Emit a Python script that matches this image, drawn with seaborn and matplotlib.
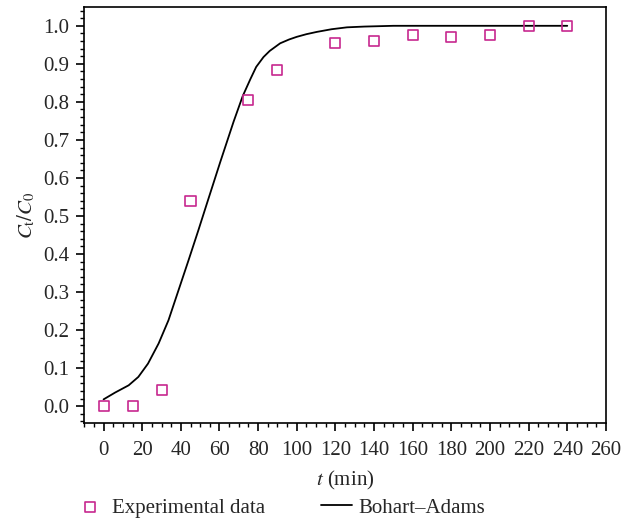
import numpy as np
import pandas as pd
import matplotlib
matplotlib.use("Agg")
import matplotlib.pyplot as plt
from matplotlib.ticker import MultipleLocator, FormatStrFormatter
import seaborn as sns

# experimental points
t_exp = [0, 15, 30, 45, 75, 90, 120, 140, 160, 180, 200, 220, 240]
c_exp = [0.0, 0.0, 0.042, 0.539, 0.806, 0.885, 0.955, 0.959, 0.977, 0.970, 0.977, 0.999, 0.999]

# Bohart-Adams model curve
t_model = [0, 6, 13, 18, 23, 28.5, 33.6, 38.8, 44, 49.1, 53.5, 60.4, 67.3, 72, 76, 79,
           82.8, 86, 91.4, 96, 100, 105, 110.4, 118, 126, 135, 150, 175, 210, 240]
c_model = [0.018, 0.036, 0.055, 0.077, 0.112, 0.165, 0.226, 0.305, 0.384, 0.463, 0.533,
           0.642, 0.748, 0.815, 0.860, 0.892, 0.918, 0.934, 0.954, 0.964, 0.971, 0.978,
           0.984, 0.991, 0.996, 0.998, 1.0, 1.0, 1.0, 1.0]

exp_df = pd.DataFrame({"t": t_exp, "c": c_exp})
model_df = pd.DataFrame({"t": t_model, "c": c_model})

sns.set_style("ticks")
plt.rcParams["font.family"] = ["Liberation Serif", "DejaVu Serif"]
plt.rcParams["mathtext.fontset"] = "stix"

fig = plt.figure(figsize=(6.24, 5.22), dpi=100)
ax = fig.add_axes([0.135, 0.189, 0.836, 0.798])

sns.lineplot(data=model_df, x="t", y="c", ax=ax, color="black", lw=1.3,
             label="Bohart\u2013Adams", zorder=2)
sns.scatterplot(data=exp_df, x="t", y="c", ax=ax, marker="s", s=52,
                facecolor="none", edgecolor="#c7288f", linewidth=1.2,
                label="Experimental data", zorder=3)

ax.set_xlim(-10, 260)
ax.set_ylim(-0.045, 1.05)
ax.xaxis.set_major_locator(MultipleLocator(20))
ax.xaxis.set_minor_locator(MultipleLocator(5))
ax.yaxis.set_major_locator(MultipleLocator(0.1))
ax.yaxis.set_minor_locator(MultipleLocator(0.02))
ax.yaxis.set_major_formatter(FormatStrFormatter("%.1f"))
ax.tick_params(which="major", direction="out", length=6, width=1.2, labelsize=15,
               color="black", pad=5)
ax.tick_params(axis="x", which="major", pad=7)
ax.tick_params(which="minor", direction="out", length=3, width=1.0, color="black")
for sp in ax.spines.values():
    sp.set_linewidth(1.2)
    sp.set_color("black")

ax.set_xlabel("$t$ (min)", fontsize=15, labelpad=6)
ax.set_ylabel("$C_{\\mathrm{t}}/C_0$", fontsize=15, labelpad=4)

h, l = ax.get_legend_handles_labels()
order = [l.index("Experimental data"), l.index("Bohart\u2013Adams")]
fig.legend([h[i] for i in order], [l[i] for i in order], loc="center left",
           bbox_to_anchor=(74 / 624, 1 - 508 / 522), ncol=2, frameon=False, fontsize=15,
           columnspacing=2.7, handlelength=1.5, handletextpad=0.3,
           borderpad=0, borderaxespad=0)
ax.get_legend().remove()

fig.savefig("out.png", dpi=100)
